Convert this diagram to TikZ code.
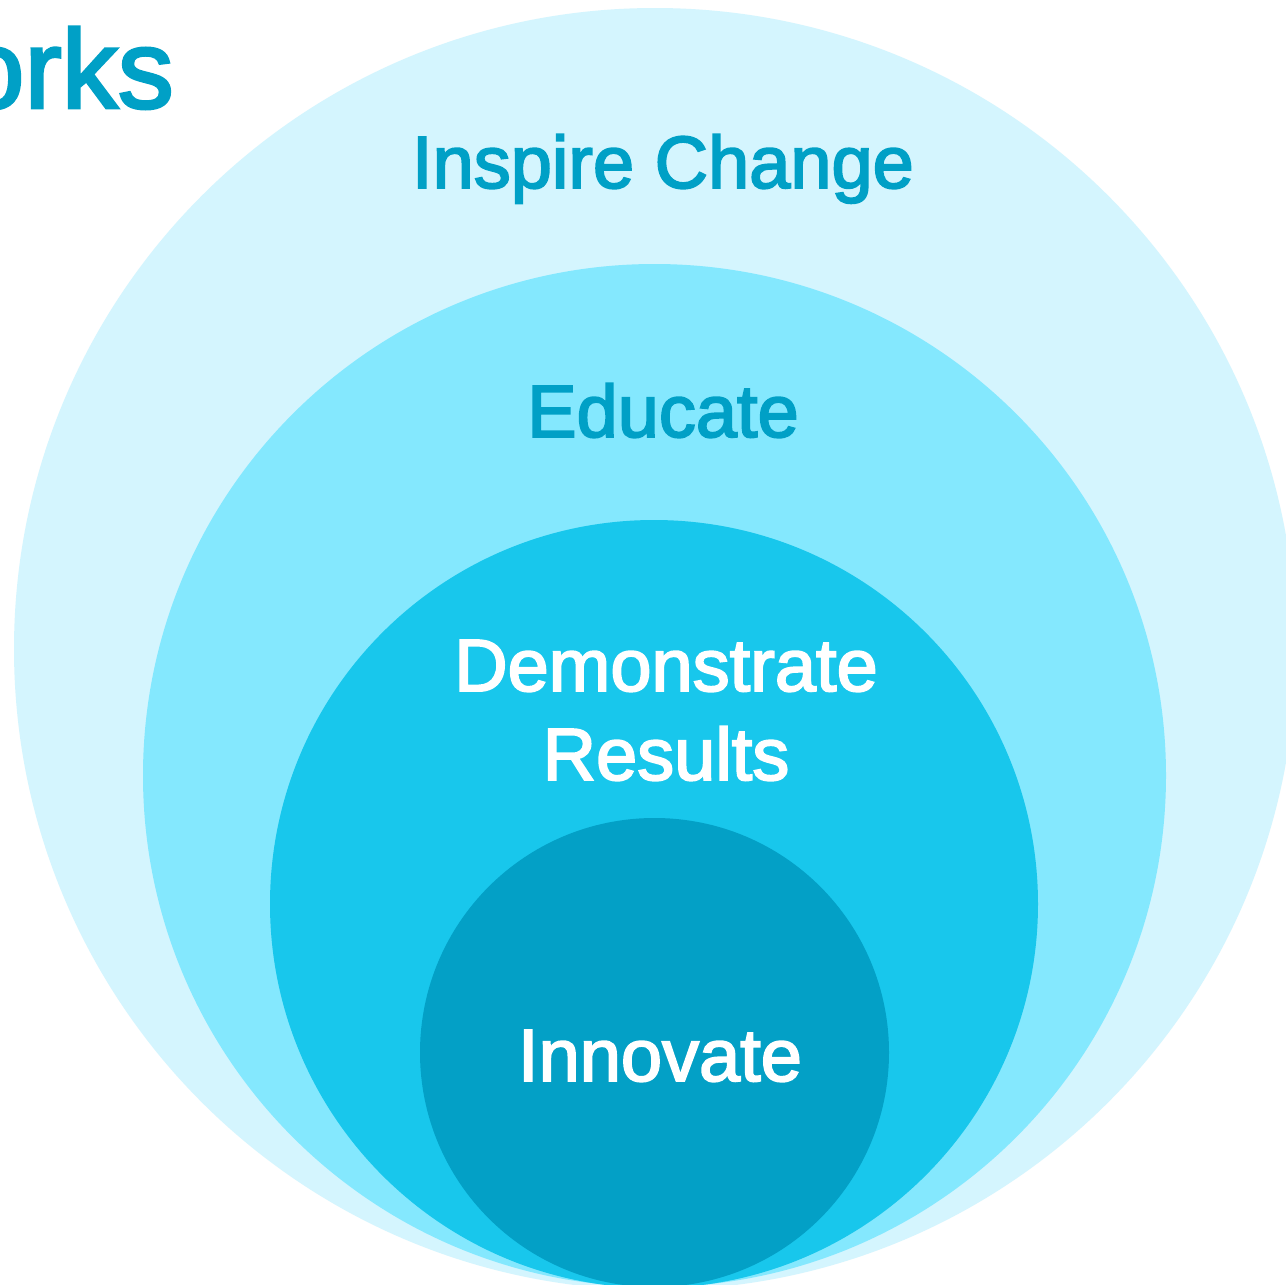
\documentclass[tikz,border=0pt]{standalone}
\usepackage{fontspec}
\setmainfont{Liberation Sans}
\newfontfamily\medfont{Liberation Sans}[FakeBold=2.5]
\definecolor{ringA}{HTML}{D4F5FE}
\definecolor{ringB}{HTML}{84E8FE}
\definecolor{ringC}{HTML}{18C7EC}
\definecolor{ringD}{HTML}{03A0C6}
\definecolor{txtblue}{HTML}{00A0C6}
\tikzset{
  ring/.style={circle, draw=none, inner sep=0pt},
  lbl/.style={font=\medfont\fontsize{74}{88}\selectfont, inner sep=0pt, align=center},
}
\begin{document}
\begin{tikzpicture}[x=1pt,y=-1pt]
\useasboundingbox (0,0) rectangle (1286,1285);
\clip (0,0) rectangle (1286,1285);
\fill[white] (0,0) rectangle (1286,1285);
\node[ring, fill=ringA, minimum size=1282pt] (c1) at (655,649) {};
\node[ring, fill=ringB, minimum size=1023pt] (c2) at (654.5,775.5) {};
\node[ring, fill=ringC, minimum size=768pt] (c3) at (654,904) {};
\node[ring, fill=ringD, minimum size=469pt] (c4) at (654.5,1052.5) {};
\node[lbl, text=txtblue, anchor=base east, font=\medfont\fontsize{112}{120}\selectfont] (title) at (174,108) {orks};
\node[lbl, text=txtblue, anchor=base] (t1) at (663,188) {Inspire Change};
\node[lbl, text=txtblue, anchor=base] (t2) at (663,437) {Educate};
\node[lbl, text=white, anchor=base] (t3) at (666,691) {Demonstrate};
\node[lbl, text=white, anchor=base] (t3b) at (666,780) {Results};
\node[lbl, text=white, anchor=base] (t4) at (660,1081) {Innovate};
\end{tikzpicture}
\end{document}
